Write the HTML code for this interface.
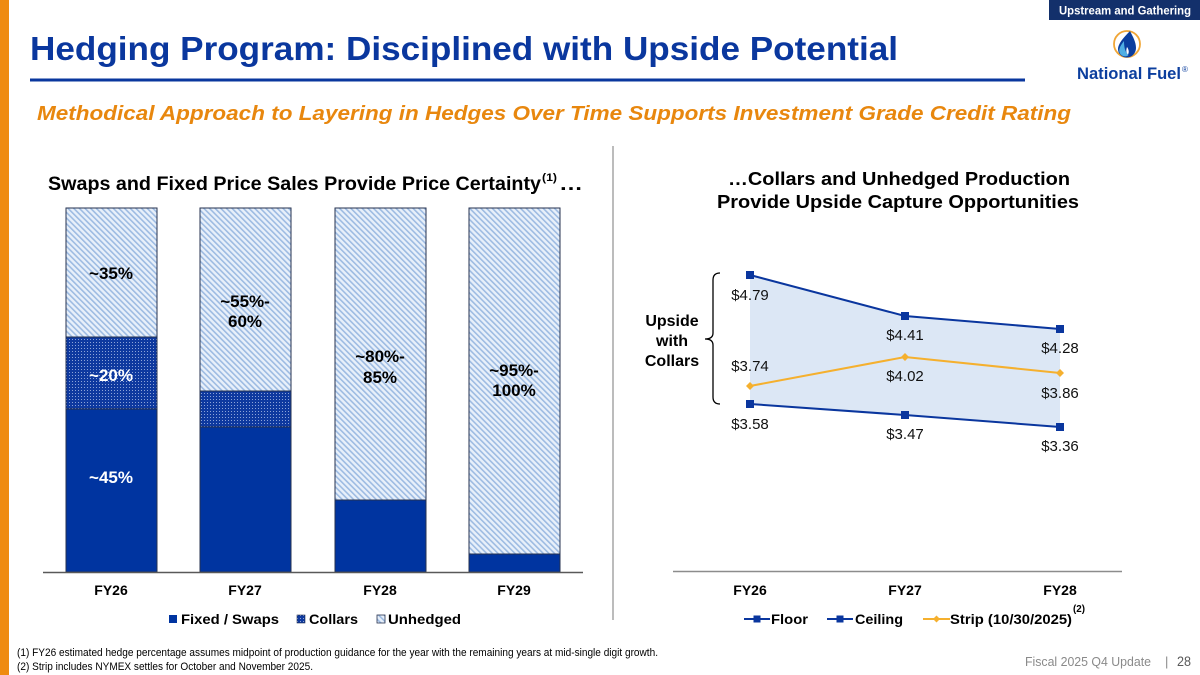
<!DOCTYPE html>
<html>
<head>
<meta charset="utf-8">
<style>
  html,body{margin:0;padding:0;background:#fff;}
  svg{display:block;font-family:"Liberation Sans",Arial,sans-serif;}
  text{font-family:"Liberation Sans",Arial,sans-serif;}
</style>
</head>
<body>
<svg width="1200" height="675" viewBox="0 0 1200 675" xmlns="http://www.w3.org/2000/svg" font-family="Liberation Sans, Arial, sans-serif">
  <defs>
    <pattern id="unh" width="4" height="4" patternUnits="userSpaceOnUse" patternTransform="rotate(-45)">
      <rect width="4" height="4" fill="#E8F0FA"/>
      <rect width="1.6" height="4" fill="#9DBBE2"/>
    </pattern>
    <pattern id="col" width="3" height="3" patternUnits="userSpaceOnUse">
      <rect width="3" height="3" fill="#0E399F"/>
      <rect width="1" height="1" fill="#8CA3D8"/>
    </pattern>
  </defs>

  <rect width="1200" height="675" fill="#fff"/>
  <rect x="0" y="0" width="9" height="675" fill="#EF8B10"/>

  <rect x="1049" y="0" width="151" height="20" fill="#13306B"/>
  <text x="1059" y="14.5" font-size="12" font-weight="bold" fill="#fff" textLength="132" lengthAdjust="spacingAndGlyphs">Upstream and Gathering</text>

  <circle cx="1127" cy="44" r="13" fill="#fff" stroke="#F0A637" stroke-width="1.8"/>
  <path d="M1130 31 C1123 38 1118 44 1118 49 C1118 54 1122 57.5 1127 57.5 C1132 57.5 1136 53 1136 48 C1136 42 1133 37 1130 31 Z" fill="#0B3E9E"/>
  <path d="M1124 41 C1120 46 1118 50 1120 53.5 C1122 57 1127 57 1128.5 55 C1125 52 1124 47 1124 41 Z" fill="#4FAEE3"/>
  <path d="M1127 47 C1126 50 1126 53 1128 54.5 C1129.5 52 1128.5 49 1127 47 Z" fill="#fff"/>
  <text x="1077" y="79" font-size="17" font-weight="bold" fill="#0B3E9E" textLength="104" lengthAdjust="spacingAndGlyphs">National Fuel</text>
  <text x="1182" y="72" font-size="8" fill="#0B3E9E">®</text>

  <text x="30" y="60" font-size="33" font-weight="bold" fill="#0A379E" textLength="868" lengthAdjust="spacingAndGlyphs">Hedging Program: Disciplined with Upside Potential</text>
  <line x1="30" y1="80" x2="1025" y2="80" stroke="#0A379E" stroke-width="3"/>
  <text x="37" y="120" font-size="20" font-weight="bold" font-style="italic" fill="#E8870E" textLength="1034" lengthAdjust="spacingAndGlyphs">Methodical Approach to Layering in Hedges Over Time Supports Investment Grade Credit Rating</text>

  <line x1="613" y1="146" x2="613" y2="620" stroke="#A6A6A6" stroke-width="1.5"/>

  <text x="48" y="190" font-size="19" font-weight="bold" fill="#000" textLength="493" lengthAdjust="spacingAndGlyphs">Swaps and Fixed Price Sales Provide Price Certainty</text>
  <text x="542" y="181" font-size="11" font-weight="bold" fill="#000" textLength="15" lengthAdjust="spacingAndGlyphs">(1)</text>
  <text x="559" y="190" font-size="19" font-weight="bold" fill="#000" textLength="24" lengthAdjust="spacingAndGlyphs">…</text>

  <g stroke="#26324F" stroke-width="1">
    <rect x="66" y="208" width="91" height="129" fill="url(#unh)"/>
    <rect x="66" y="337" width="91" height="72" fill="url(#col)"/>
    <rect x="66" y="409" width="91" height="163" fill="#0034A0"/>
    <rect x="200" y="208" width="91" height="183" fill="url(#unh)"/>
    <rect x="200" y="391" width="91" height="36" fill="url(#col)"/>
    <rect x="200" y="427" width="91" height="145" fill="#0034A0"/>
    <rect x="335" y="208" width="91" height="292" fill="url(#unh)"/>
    <rect x="335" y="500" width="91" height="72" fill="#0034A0"/>
    <rect x="469" y="208" width="91" height="346" fill="url(#unh)"/>
    <rect x="469" y="554" width="91" height="18" fill="#0034A0"/>
  </g>
  <line x1="43" y1="572.5" x2="583" y2="572.5" stroke="#595959" stroke-width="1.5"/>

  <g font-size="17" font-weight="bold" text-anchor="middle">
    <text x="111" y="279" fill="#000">~35%</text>
    <text x="111" y="381" fill="#fff">~20%</text>
    <text x="111" y="483" fill="#fff">~45%</text>
    <text x="245" y="307" fill="#000">~55%-</text>
    <text x="245" y="327" fill="#000">60%</text>
    <text x="380" y="362" fill="#000">~80%-</text>
    <text x="380" y="383" fill="#000">85%</text>
    <text x="514" y="376" fill="#000">~95%-</text>
    <text x="514" y="396" fill="#000">100%</text>
  </g>

  <g font-size="14" font-weight="bold" text-anchor="middle" fill="#000">
    <text x="111" y="595">FY26</text>
    <text x="245" y="595">FY27</text>
    <text x="380" y="595">FY28</text>
    <text x="514" y="595">FY29</text>
  </g>

  <rect x="169" y="615" width="8" height="8" fill="#0034A0"/>
  <text x="181" y="624" font-size="14" font-weight="bold" textLength="98" lengthAdjust="spacingAndGlyphs">Fixed / Swaps</text>
  <rect x="297" y="615" width="8" height="8" fill="url(#col)" stroke="#26324F" stroke-width="0.6"/>
  <text x="309" y="624" font-size="14" font-weight="bold" textLength="49" lengthAdjust="spacingAndGlyphs">Collars</text>
  <rect x="377" y="615" width="8" height="8" fill="url(#unh)" stroke="#26324F" stroke-width="0.8"/>
  <text x="388" y="624" font-size="14" font-weight="bold" textLength="73" lengthAdjust="spacingAndGlyphs">Unhedged</text>

  <g font-size="18" font-weight="bold" text-anchor="middle" fill="#000">
    <text x="899" y="185" textLength="342" lengthAdjust="spacingAndGlyphs">…Collars and Unhedged Production</text>
    <text x="898" y="208" textLength="362" lengthAdjust="spacingAndGlyphs">Provide Upside Capture Opportunities</text>
  </g>

  <polygon points="750,275 905,316 1060,329 1060,427 905,415 750,404" fill="#DCE7F5"/>
  <polyline points="750,275 905,316 1060,329" fill="none" stroke="#0A369E" stroke-width="2"/>
  <polyline points="750,404 905,415 1060,427" fill="none" stroke="#0A369E" stroke-width="2"/>
  <polyline points="750,386 905,357 1060,373" fill="none" stroke="#F5B02E" stroke-width="2"/>
  <g fill="#0A369E">
    <rect x="746" y="271" width="8" height="8"/>
    <rect x="901" y="312" width="8" height="8"/>
    <rect x="1056" y="325" width="8" height="8"/>
    <rect x="746" y="400" width="8" height="8"/>
    <rect x="901" y="411" width="8" height="8"/>
    <rect x="1056" y="423" width="8" height="8"/>
  </g>
  <g fill="#F5B02E">
    <polygon points="750,382 754,386 750,390 746,386"/>
    <polygon points="905,353 909,357 905,361 901,357"/>
    <polygon points="1060,369 1064,373 1060,377 1056,373"/>
  </g>

  <g font-size="15" text-anchor="middle" fill="#111">
    <text x="750" y="300">$4.79</text>
    <text x="905" y="340">$4.41</text>
    <text x="1060" y="353">$4.28</text>
    <text x="750" y="371">$3.74</text>
    <text x="905" y="381">$4.02</text>
    <text x="1060" y="398">$3.86</text>
    <text x="750" y="429">$3.58</text>
    <text x="905" y="439">$3.47</text>
    <text x="1060" y="451">$3.36</text>
  </g>

  <path d="M720 273 Q713 273 713 280 L713 333 Q713 339 705 339 Q713 339 713 345 L713 397 Q713 404 720 404" fill="none" stroke="#000" stroke-width="1.3"/>
  <g font-size="16" font-weight="bold" text-anchor="middle" fill="#000">
    <text x="672" y="326">Upside</text>
    <text x="672" y="346">with</text>
    <text x="672" y="366">Collars</text>
  </g>

  <line x1="673" y1="571.5" x2="1122" y2="571.5" stroke="#8C8C8C" stroke-width="1.5"/>
  <g font-size="14" font-weight="bold" text-anchor="middle" fill="#000">
    <text x="750" y="595">FY26</text>
    <text x="905" y="595">FY27</text>
    <text x="1060" y="595">FY28</text>
  </g>

  <line x1="744" y1="619" x2="770" y2="619" stroke="#0A369E" stroke-width="2"/>
  <rect x="753.5" y="615.5" width="7" height="7" fill="#0A369E"/>
  <text x="771" y="624" font-size="14" font-weight="bold" textLength="37" lengthAdjust="spacingAndGlyphs">Floor</text>
  <line x1="827" y1="619" x2="853" y2="619" stroke="#0A369E" stroke-width="2"/>
  <rect x="836.5" y="615.5" width="7" height="7" fill="#0A369E"/>
  <text x="855" y="624" font-size="14" font-weight="bold" textLength="48" lengthAdjust="spacingAndGlyphs">Ceiling</text>
  <line x1="923" y1="619" x2="950" y2="619" stroke="#F5B02E" stroke-width="2"/>
  <polygon points="936.5,615.5 940,619 936.5,622.5 933,619" fill="#F5B02E"/>
  <text x="950" y="624" font-size="14" font-weight="bold" textLength="122" lengthAdjust="spacingAndGlyphs">Strip (10/30/2025)</text>
  <text x="1073" y="612" font-size="10" font-weight="bold" textLength="12" lengthAdjust="spacingAndGlyphs">(2)</text>

  <text x="17" y="656" font-size="11" fill="#000" textLength="641" lengthAdjust="spacingAndGlyphs">(1) FY26 estimated hedge percentage assumes midpoint of production guidance for the year with the remaining years at mid-single digit growth.</text>
  <text x="17" y="670" font-size="11" fill="#000" textLength="296" lengthAdjust="spacingAndGlyphs">(2) Strip includes NYMEX settles for October and November 2025.</text>

  <text x="1025" y="666" font-size="13" fill="#8A8A8A" textLength="126" lengthAdjust="spacingAndGlyphs">Fiscal 2025 Q4 Update</text>
  <text x="1165" y="666" font-size="13" fill="#8A8A8A">|</text>
  <text x="1177" y="666" font-size="14" fill="#595959" textLength="14" lengthAdjust="spacingAndGlyphs">28</text>
</svg>
</body>
</html>
